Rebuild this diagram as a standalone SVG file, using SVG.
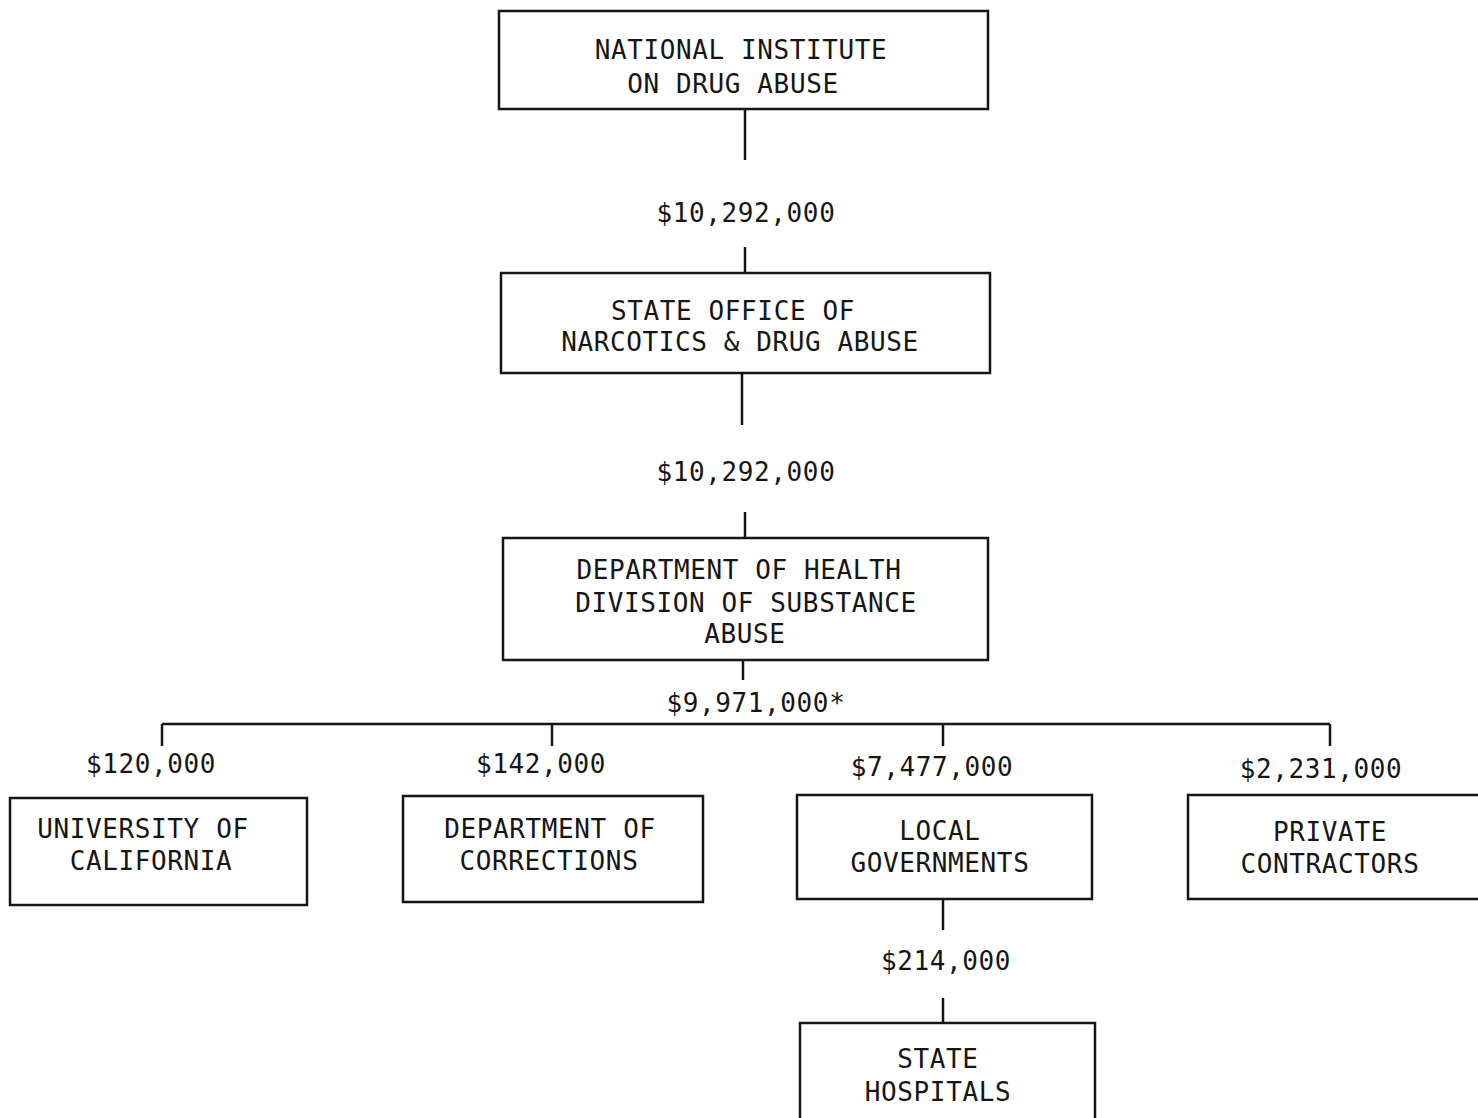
<svg xmlns="http://www.w3.org/2000/svg" width="1478" height="1118" viewBox="0 0 1478 1118">
<style>
.box{fill:none;stroke:#151515;stroke-width:2.5}
.ln{fill:none;stroke:#151515;stroke-width:2.5}
text{font-family:"DejaVu Sans Mono","Liberation Mono",monospace;font-size:26px;fill:#151515;text-anchor:middle;letter-spacing:0.6px}
</style>
<rect width="1478" height="1118" fill="#ffffff"/>
<g id="connectors">
<path class="ln" d="M745 110V160"/>
<path class="ln" d="M745 247V273"/>
<path class="ln" d="M742 373V425"/>
<path class="ln" d="M745 512V538"/>
<path class="ln" d="M743 660V680"/>
<path class="ln" d="M162 724H1330"/>
<path class="ln" d="M162 724V746M552 724V746M943 724V746M1330 724V746"/>
<path class="ln" d="M943 899V930"/>
<path class="ln" d="M943 998V1023"/>
<text x="746" y="222">$10,292,000</text>
<text x="746" y="481">$10,292,000</text>
<text x="756" y="712">$9,971,000*</text>
<text x="151" y="773">$120,000</text>
<text x="541" y="773">$142,000</text>
<text x="932" y="776">$7,477,000</text>
<text x="1321" y="778">$2,231,000</text>
<text x="946" y="970">$214,000</text>
</g>
<g id="nida">
<rect class="box" x="499" y="11" width="489" height="98"/>
<text x="741" y="59">NATIONAL INSTITUTE</text>
<text x="733" y="93">ON DRUG ABUSE</text>
</g>
<g id="state-office">
<rect class="box" x="501" y="273" width="489" height="100"/>
<text x="733" y="320">STATE OFFICE OF</text>
<text x="740" y="351">NARCOTICS &amp; DRUG ABUSE</text>
</g>
<g id="dept-health">
<rect class="box" x="503" y="538" width="485" height="122"/>
<text x="739" y="579">DEPARTMENT OF HEALTH</text>
<text x="746" y="612">DIVISION OF SUBSTANCE</text>
<text x="745" y="643">ABUSE</text>
</g>
<g id="uc">
<rect class="box" x="10" y="798" width="297" height="107"/>
<text x="143" y="838">UNIVERSITY OF</text>
<text x="151" y="870">CALIFORNIA</text>
</g>
<g id="corrections">
<rect class="box" x="403" y="796" width="300" height="106"/>
<text x="550" y="838">DEPARTMENT OF</text>
<text x="549" y="870">CORRECTIONS</text>
</g>
<g id="local">
<rect class="box" x="797" y="795" width="295" height="104"/>
<text x="940" y="840">LOCAL</text>
<text x="940" y="872">GOVERNMENTS</text>
</g>
<g id="private">
<path class="box" d="M1480 795H1188V899H1480"/>
<text x="1330" y="841">PRIVATE</text>
<text x="1330" y="873">CONTRACTORS</text>
</g>
<g id="hospitals">
<path class="box" d="M800 1120V1023H1095V1120"/>
<text x="938" y="1068">STATE</text>
<text x="938" y="1101">HOSPITALS</text>
</g>
</svg>
